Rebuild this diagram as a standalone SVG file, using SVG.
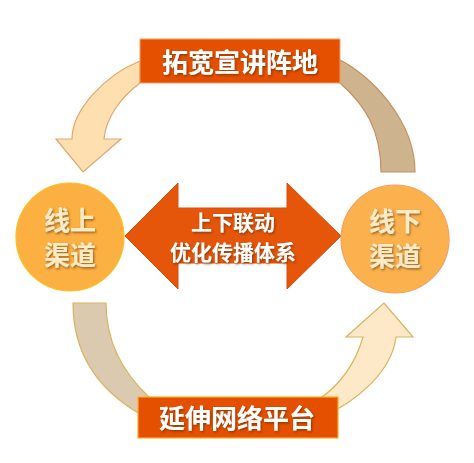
<svg xmlns="http://www.w3.org/2000/svg" width="474" height="463" viewBox="0 0 474 463">
<defs>
<filter id="ts" x="-10%" y="-10%" width="130%" height="140%">
<feDropShadow dx="1.2" dy="1.5" stdDeviation="0.8" flood-color="#5a2a00" flood-opacity="0.6"/>
</filter>
<style>
.lbl{font-family:"Noto Sans CJK SC","Liberation Sans",sans-serif;font-weight:bold;text-anchor:middle;filter:url(#ts)}
.box{fill:#E55000}
</style>
</defs>
<rect width="474" height="463" fill="#ffffff"/>
<g id="connectors">
<path id="arrow-tl" d="M140,61 C105,75 72,110 72,139 L56,139 L83,172 L121,139 L104,139 C106,118 120,98 140,83 Z" fill="#FDDFB0" stroke="#E2A66E" stroke-width="1.2"/>
<path id="arrow-tr" d="M340,60 C370,75 415,120 415,172 L381,172 C381,130 365,105 340,83 Z" fill="#CDB38E" stroke="#C98F5E" stroke-width="1.2"/>
<path id="arrow-bl" d="M73,303 C73,345 90,385 140,414 L150,398 C125,375 106,345 106,303 Z" fill="#DCCAB0" stroke="#D9B45A" stroke-width="1.2"/>
<path id="arrow-br" d="M320,418 C360,400 392,370 396,337 L413,337 L384,303 L346,337 L363,337 C355,365 340,385 318,400 Z" fill="#FDE9C8" stroke="#D9B45A" stroke-width="1.2"/>
<path id="double-arrow" d="M125,236 L178,183 L178,208 L287,208 L287,183 L341,236 L287,289 L287,263 L178,263 L178,289 Z" fill="#E5560A" stroke="#D94E08" stroke-width="1"/>
<text class="lbl" x="233" y="230" font-size="21" fill="#ffffff">上下联动</text>
<text class="lbl" x="233" y="260" font-size="21" fill="#ffffff">优化传播体系</text>
</g>
<g id="node-top">
<rect class="box" x="140" y="39" width="200" height="44" stroke="#F5A060" stroke-width="1"/>
<text class="lbl" x="240" y="72" font-size="26" fill="#ffffff">拓宽宣讲阵地</text>
</g>
<g id="node-bottom">
<rect class="box" x="138" y="397" width="200" height="41" stroke="#F7B020" stroke-width="1.2"/>
<text class="lbl" x="237" y="428" font-size="26" fill="#ffffff">延伸网络平台</text>
</g>
<g id="node-left">
<circle cx="70" cy="237" r="54" fill="#FBB041" stroke="#F9C020" stroke-width="1.2"/>
<text class="lbl" x="70" y="230" font-size="26" fill="#FDEBC8">线上</text>
<text class="lbl" x="70" y="265" font-size="26" fill="#FDEBC8">渠道</text>
</g>
<g id="node-right">
<circle cx="395" cy="239" r="54" fill="#FBB24E" stroke="#F5A060" stroke-width="1.2"/>
<text class="lbl" x="395" y="231" font-size="26" fill="#FDEBC8">线下</text>
<text class="lbl" x="395" y="266" font-size="26" fill="#FDEBC8">渠道</text>
</g>
</svg>
